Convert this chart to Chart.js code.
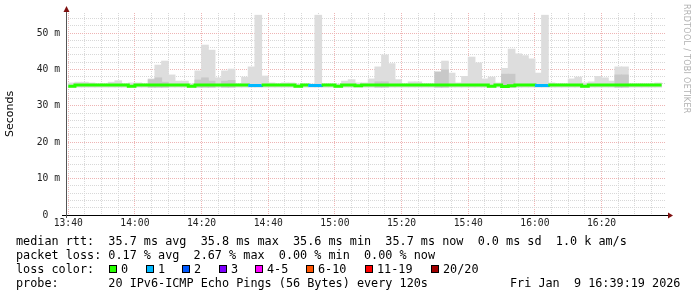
<!DOCTYPE html>
<html lang="en">
<head>
    <meta charset="UTF-8">
    <title>SmokePing</title>
    <script src="https://cdn.jsdelivr.net/npm/chart.js@4.4.1/dist/chart.umd.min.js"></script>
    <style>
        body { margin: 0; background: #fff; }
        #wrap { position: relative; width: 697px; height: 297px; overflow: hidden; }
        #myChart { position: absolute; left: 0; top: 0; }
        .txt { position: absolute; left: 16px; font: 11.8px 'DejaVu Sans Mono', monospace; color: #000; white-space: pre; line-height: 14px; }
        .box { position: absolute; width: 6px; height: 6px; border: 1px solid #000; }
        .lab { position: absolute; font: 11.8px 'DejaVu Sans Mono', monospace; white-space: pre; line-height: 14px; }
        #brand { position: absolute; left: 682px; top: 4px; writing-mode: vertical-rl; font: 8px 'DejaVu Sans', sans-serif; color: #b0b0b0; letter-spacing: 0.3px; }
    </style>
</head>
<body>
<div id="wrap">
    <canvas id="myChart" width="697" height="297"></canvas>
    <div id="brand">RRDTOOL / TOBI OETIKER</div>
    <div class="txt" style="top:234px">median rtt:  35.7 ms avg  35.8 ms max  35.6 ms min  35.7 ms now  0.0 ms sd  1.0 k am/s</div>
    <div class="txt" style="top:248px">packet loss: 0.17 % avg  2.67 % max  0.00 % min  0.00 % now</div>
    <div class="txt" style="top:262px">loss color:</div>
    <div id="legendRow"></div>
    <div class="txt" style="top:276px">probe:       20 IPv6-ICMP Echo Pings (56 Bytes) every 120s</div>
    <div class="txt" style="top:276px; left:510px">Fri Jan  9 16:39:19 2026</div>
</div>
<script>
    // one value per 2-minute step, first step starts at 13:40
    var stepStart = 0;          // minutes after 13:40
    var stepMinutes = 2;
    var smokeFloor = 35.1;

    // top of the light smoke (ms)
    var smokeMax = [
        36.3, 36.5, 36.5, 36.3, 36.0, 36.0, 36.5, 36.9, 36.0, 36.3,
        36.3, 36.0, 37.4, 41.2, 42.3, 38.5, 36.8, 36.8, 36.0, 39.6,
        46.7, 45.3, 37.7, 39.6, 40.1, 36.0, 37.9, 40.7, 54.9, 38.2,
        36.3, 36.0, 36.3, 36.3, 36.0, 36.0, 36.0, 54.9, 36.0, 36.0,
        36.0, 36.8, 37.2, 36.3, 36.3, 37.4, 40.7, 44.0, 41.6, 37.2,
        36.0, 36.6, 36.6, 36.0, 36.0, 39.3, 42.3, 39.0, 36.3, 38.1,
        43.4, 41.8, 37.4, 37.9, 36.3, 40.3, 45.6, 44.3, 43.8, 42.9,
        39.0, 54.9, 36.3, 36.0, 36.0, 37.4, 37.9, 36.3, 36.6, 38.1,
        37.7, 36.8, 40.7, 40.7, 36.0, 36.0, 36.0, 36.0, 36.3
    ];

    // top of the darker (denser) smoke, null where it hides under the median
    var smokeDark = [
        null, null, null, null, null, null, null, null, null, null,
        null, null, 37.2, 37.7, 36.5, null, null, null, null, 37.1,
        37.7, 36.8, null, 36.8, 37.0, null, null, null, null, null,
        null, null, null, null, null, null, null, null, null, null,
        null, null, null, null, null, null, 36.6, 36.6, null, null,
        null, null, null, null, null, 39.3, 39.9, null, null, null,
        null, null, null, null, null, 38.7, 38.7, null, null, null,
        null, null, null, null, null, null, null, null, null, null,
        null, null, 38.5, 38.5, null, null, null, null, null
    ];

    var median = [
        35.4, 35.7, 35.7, 35.7, 35.7, 35.7, 35.7, 35.7, 35.7, 35.4,
        35.7, 35.7, 35.7, 35.7, 35.7, 35.7, 35.7, 35.7, 35.4, 35.7,
        35.7, 35.7, 35.7, 35.7, 35.7, 35.7, 35.7, 35.6, 35.6, 35.7,
        35.7, 35.7, 35.7, 35.7, 35.4, 35.7, 35.6, 35.6, 35.7, 35.7,
        35.4, 35.7, 35.7, 35.5, 35.7, 35.7, 35.7, 35.7, 35.7, 35.7,
        35.7, 35.7, 35.7, 35.7, 35.7, 35.7, 35.7, 35.7, 35.7, 35.7,
        35.7, 35.7, 35.7, 35.4, 35.7, 35.3, 35.5, 35.7, 35.7, 35.7,
        35.6, 35.6, 35.7, 35.7, 35.7, 35.7, 35.7, 35.4, 35.7, 35.7,
        35.7, 35.7, 35.7, 35.7, 35.7, 35.7, 35.7, 35.7, 35.7
    ];

    // lost pings out of 20 per step
    var loss = [
        0, 0, 0, 0, 0, 0, 0, 0, 0, 0,
        0, 0, 0, 0, 0, 0, 0, 0, 0, 0,
        0, 0, 0, 0, 0, 0, 0, 1, 1, 0,
        0, 0, 0, 0, 0, 0, 1, 1, 0, 0,
        0, 0, 0, 0, 0, 0, 0, 0, 0, 0,
        0, 0, 0, 0, 0, 0, 0, 0, 0, 0,
        0, 0, 0, 0, 0, 0, 0, 0, 0, 0,
        1, 1, 0, 0, 0, 0, 0, 0, 0, 0,
        0, 0, 0, 0, 0, 0, 0, 0, 0
    ];

    var lossLabels = ['0', '1', '2', '3', '4-5', '6-10', '11-19', '20/20'];
    var lossColors = ['#26ff00', '#00b8ff', '#0059ff', '#7e00ff', '#ff00ff', '#ff5500', '#ff0000', '#a10000'];
    var lossLimits = [0, 1, 2, 3, 5, 10, 19, 20];

    var xStart = -41 / 60;      // 13:39:19
    var xEnd = 180 - 41 / 60;   // 16:39:19
    var xTicks = [];
    for (var t = 0; t <= 175; t += 5) xTicks.push(t);
    var yTicks = [];
    for (var v = 0; v <= 54; v += 2) yTicks.push(v);
    var yMax = 55.5;

    function lossColor(n) {
        for (var i = 0; i < lossLimits.length; i++) {
            if (n <= lossLimits[i]) return lossColors[i];
        }
        return lossColors[lossColors.length - 1];
    }

    function clock(m) {
        var total = 13 * 60 + 40 + m;
        var h = Math.floor(total / 60), mm = total % 60;
        return h + ':' + (mm < 10 ? '0' : '') + mm;
    }

    // legend boxes
    var legendX = [109, 146, 182, 219, 255, 306, 365, 431];
    var row = document.getElementById('legendRow');
    for (var i = 0; i < lossLabels.length; i++) {
        var b = document.createElement('div');
        b.className = 'box';
        b.style.left = legendX[i] + 'px';
        b.style.top = '265px';
        b.style.background = lossColors[i];
        row.appendChild(b);
        var l = document.createElement('div');
        l.className = 'lab';
        l.style.left = (legendX[i] + 12) + 'px';
        l.style.top = '262px';
        l.textContent = lossLabels[i];
        row.appendChild(l);
    }

    var lightBars = [], darkBars = [], medianLine = [];
    for (var k = 0; k < smokeMax.length; k++) {
        var mid = stepStart + k * stepMinutes + stepMinutes / 2;
        lightBars.push({x: mid, y: [smokeFloor, smokeMax[k]]});
        if (smokeDark[k] !== null) darkBars.push({x: mid, y: [smokeFloor, smokeDark[k]]});
        medianLine.push({x: stepStart + k * stepMinutes, y: median[k]});
    }
    medianLine.push({x: stepStart + smokeMax.length * stepMinutes, y: median[median.length - 1]});

    var axisArrows = {
        id: 'axisArrows',
        afterDraw: function (chart) {
            var ctx = chart.ctx, a = chart.chartArea;
            ctx.save();
            ctx.lineWidth = 1;
            ctx.strokeStyle = '#000';
            ctx.beginPath();
            ctx.moveTo(a.left - 4, a.bottom + 0.5);
            ctx.lineTo(a.right + 4, a.bottom + 0.5);
            ctx.stroke();
            ctx.strokeStyle = '#555';
            ctx.beginPath();
            ctx.moveTo(a.left + 0.5, a.bottom + 3);
            ctx.lineTo(a.left + 0.5, a.top - 4);
            ctx.stroke();
            ctx.fillStyle = '#7f1010';
            ctx.beginPath();
            ctx.moveTo(a.left + 0.5, a.top - 7);
            ctx.lineTo(a.left - 2.5, a.top - 1);
            ctx.lineTo(a.left + 3.5, a.top - 1);
            ctx.closePath();
            ctx.fill();
            ctx.beginPath();
            ctx.moveTo(a.right + 7, a.bottom + 0.5);
            ctx.lineTo(a.right + 2, a.bottom - 2.5);
            ctx.lineTo(a.right + 2, a.bottom + 3.5);
            ctx.closePath();
            ctx.fill();
            ctx.restore();
        }
    };

    var tickFont = {family: 'DejaVu Sans Mono', size: 9.7};
    var minorGrid = '#d8d8d8';
    var majorGrid = '#eeb4b4';

    var ctx = document.getElementById('myChart').getContext('2d');
    var myChart = new Chart(ctx, {
        data: {
            datasets: [
                {
                    type: 'line',
                    data: medianLine,
                    stepped: true,
                    borderWidth: 3,
                    pointRadius: 0,
                    borderColor: '#26ff00',
                    segment: {
                        borderColor: function (c) { return lossColor(loss[c.p0DataIndex]); }
                    },
                    order: 0
                },
                {
                    type: 'bar',
                    data: darkBars,
                    backgroundColor: '#c8c8c8',
                    barThickness: 7,
                    grouped: false,
                    order: 1
                },
                {
                    type: 'bar',
                    data: lightBars,
                    backgroundColor: '#dddddd',
                    barThickness: 7,
                    grouped: false,
                    order: 2
                }
            ]
        },
        options: {
            responsive: false,
            animation: false,
            layout: {padding: {left: 0, right: 31, top: 13, bottom: 0}},
            plugins: {legend: {display: false}, tooltip: {enabled: false}},
            scales: {
                x: {
                    type: 'linear',
                    offset: false,
                    min: xStart,
                    max: xEnd,
                    afterBuildTicks: function (s) { s.ticks = xTicks.map(function (t) { return {value: t}; }); },
                    afterFit: function (s) { s.height = 82; },
                    ticks: {
                        autoSkip: false,
                        maxRotation: 0,
                        padding: 3,
                        color: '#222',
                        font: tickFont,
                        callback: function (t) { return t % 20 === 0 ? clock(t) : ''; }
                    },
                    grid: {
                        offset: false,
                        drawTicks: false,
                        color: function (c) { return c.tick && c.tick.value % 20 === 0 ? majorGrid : minorGrid; }
                    },
                    border: {display: false, dash: [1, 1]}
                },
                y: {
                    min: 0,
                    max: yMax,
                    afterBuildTicks: function (s) { s.ticks = yTicks.map(function (t) { return {value: t}; }); },
                    afterFit: function (s) { s.width = 66; },
                    ticks: {
                        autoSkip: false,
                        padding: 6,
                        color: '#222',
                        font: tickFont,
                        callback: function (t) { return t === 0 ? '0  ' : (t % 10 === 0 ? t + ' m' : ''); }
                    },
                    grid: {
                        drawTicks: false,
                        color: function (c) { return c.tick && c.tick.value % 10 === 0 ? majorGrid : minorGrid; }
                    },
                    border: {display: false, dash: [1, 1]},
                    title: {
                        display: true,
                        text: 'Seconds',
                        color: '#000',
                        font: {family: 'DejaVu Sans', size: 11},
                        padding: {top: 4, bottom: 0}
                    }
                }
            }
        },
        plugins: [axisArrows]
    });
</script>
</body>
</html>
